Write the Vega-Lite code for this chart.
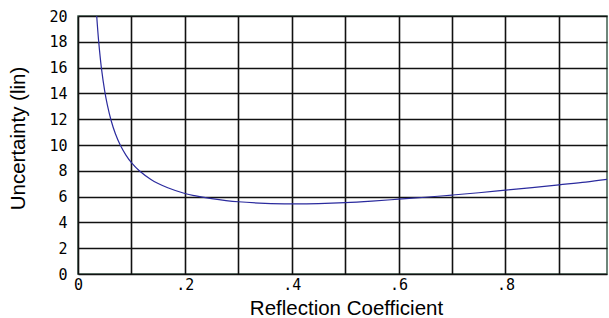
{
  "$schema": "https://vega.github.io/schema/vega-lite/v6.json",
  "autosize": "none",
  "width": 529,
  "height": 258,
  "padding": {"left": 78, "top": 16, "right": 2, "bottom": 44},
  "background": "white",
  "config": {
    "view": {"stroke": "#3f5f4f", "strokeWidth": 1.5},
    "axis": {"grid": true, "gridColor": "#111111", "gridWidth": 1.6, "gridOpacity": 1, "domain": false, "ticks": false,
      "labelFont": "DejaVu Sans Mono", "labelFontSize": 15, "labelColor": "#000000",
      "titleFont": "Liberation Sans", "titleFontSize": 20.5, "titleFontWeight": "normal", "titleColor": "#000000"}
  },
  "data": {"values": [
    {"g": 0.035, "u": 20}, {"g": 0.0386, "u": 18.07}, {"g": 0.044, "u": 15.9}, {"g": 0.05, "u": 14.18},
    {"g": 0.055, "u": 13.09}, {"g": 0.0617, "u": 11.94}, {"g": 0.07, "u": 10.87}, {"g": 0.079, "u": 10},
    {"g": 0.09, "u": 9.2}, {"g": 0.1, "u": 8.63}, {"g": 0.1147, "u": 8}, {"g": 0.1365, "u": 7.33},
    {"g": 0.15, "u": 7.02}, {"g": 0.168, "u": 6.69}, {"g": 0.2, "u": 6.24}, {"g": 0.218, "u": 6.07},
    {"g": 0.25, "u": 5.85}, {"g": 0.3, "u": 5.6}, {"g": 0.35, "u": 5.48}, {"g": 0.4, "u": 5.44},
    {"g": 0.45, "u": 5.46}, {"g": 0.5, "u": 5.53}, {"g": 0.55, "u": 5.65}, {"g": 0.6, "u": 5.8},
    {"g": 0.65, "u": 5.95}, {"g": 0.7, "u": 6.12}, {"g": 0.75, "u": 6.3}, {"g": 0.8, "u": 6.5},
    {"g": 0.85, "u": 6.7}, {"g": 0.9, "u": 6.91}, {"g": 0.95, "u": 7.12}, {"g": 0.99, "u": 7.33}
  ]},
  "mark": {"type": "line", "color": "#2b2b9e", "strokeWidth": 1.2, "clip": true, "interpolate": "catmull-rom"},
  "encoding": {
    "x": {"field": "g", "type": "quantitative", "scale": {"domain": [0, 0.99], "nice": false, "zero": false},
      "axis": {"title": "Reflection Coefficient", "values": [0, 0.1, 0.2, 0.3, 0.4, 0.5, 0.6, 0.7, 0.8, 0.9],
        "labelExpr": "datum.value == 0 ? '0' : (round(datum.value * 10) % 2 == 0 ? '.' + round(datum.value * 10) : '')",
        "labelPadding": 3, "labelAlign": "center", "titleX": 268, "titleY": 40, "titleBaseline": "alphabetic"}},
    "y": {"field": "u", "type": "quantitative", "scale": {"domain": [0, 20], "nice": false},
      "axis": {"title": "Uncertainty (lin)", "values": [0, 2, 4, 6, 8, 10, 12, 14, 16, 18, 20],
        "labelPadding": 11, "titleX": -60, "titleY": 122, "titleAngle": -90, "titleAlign": "center", "titleBaseline": "middle"}}
  }
}
